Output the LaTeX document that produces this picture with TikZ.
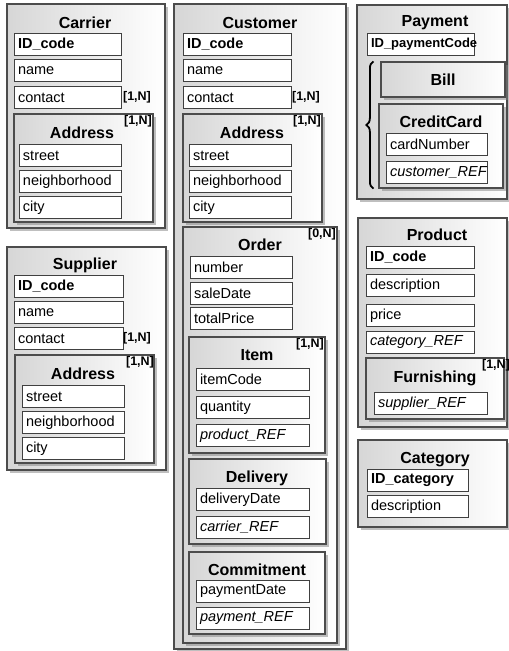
\documentclass[tikz,border=0pt]{standalone}
\usepackage{fontspec}
\setmainfont{Liberation Sans}
\usetikzlibrary{fit,shadows,decorations.pathreplacing}

\begin{document}
\begin{tikzpicture}[
      x=1pt, y=-1pt,
      entity/.style={draw=black!70, line width=1.2pt, left color=black!16, right color=white,
        inner sep=0pt, drop shadow={shadow xshift=2.5pt, shadow yshift=-2.5pt, fill=black!50, opacity=0.5}},
      field/.style={draw=black!75, line width=1pt, fill=white, anchor=north west,
        minimum height=22pt, inner xsep=3.5pt, inner ysep=0pt, text width=#1, align=left,
        font=\fontsize{14.5}{16}\selectfont},
      field/.default=100pt,
      pkey/.style={field=#1, font=\fontsize{14.5}{16}\selectfont\bfseries},
      pkey/.default=100pt,
      fref/.style={field=#1, font=\fontsize{14.5}{16}\selectfont\itshape},
      fref/.default=100pt,
      hdr/.style={font=\fontsize{16}{18}\selectfont\bfseries, inner sep=0pt},
      card/.style={font=\fontsize{12.5}{14}\selectfont\bfseries, inner sep=0pt},
      brace/.style={decorate, decoration={brace, amplitude=7pt}, line width=1.8pt}
    ]
    \useasboundingbox (0,0) rectangle (509,651);

    % Carrier
    \node[entity, fit={(7,4) (165,228)}] (Car) {};
    \node[hdr] (CarT) at (85,23) {Carrier};
    \node[pkey] (CarId) at (14,33) {ID\_code};
    \node[field] (CarName) at (14,59) {name};
    \node[field] (CarCont) at (14,86) {contact};
    \node[card] (CarCard) at (137,97) {[1,N]};
    \node[entity, fit={(14,114) (153,222)}] (CarAddr) {};
    \node[hdr] (CarAddrT) at (82,133) {Address};
    \node[card] (CarAddrCard) at (138,121) {[1,N]};
    \node[field=95pt] (CarStreet) at (19,144) {street};
    \node[field=95pt] (CarNbh) at (19,170) {neighborhood};
    \node[field=95pt] (CarCity) at (19,196) {city};

    % Supplier
    \node[entity, fit={(7,247) (166,470)}] (Sup) {};
    \node[hdr] (SupT) at (85,265) {Supplier};
    \node[pkey=102pt] (SupId) at (14,275) {ID\_code};
    \node[field=102pt] (SupName) at (14,301) {name};
    \node[field=102pt] (SupCont) at (14,327) {contact};
    \node[card] (SupCard) at (137,338) {[1,N]};
    \node[entity, fit={(15,355) (154,463)}] (SupAddr) {};
    \node[hdr] (SupAddrT) at (83,374) {Address};
    \node[card] (SupAddrCard) at (140,362) {[1,N]};
    \node[field=95pt] (SupStreet) at (22,385) {street};
    \node[field=95pt] (SupNbh) at (22,411) {neighborhood};
    \node[field=95pt] (SupCity) at (22,437) {city};

    % Customer
    \node[entity, fit={(174,4) (346,649)}] (Cus) {};
    \node[hdr] (CusT) at (260,23) {Customer};
    \node[pkey=101pt] (CusId) at (183,33) {ID\_code};
    \node[field=101pt] (CusName) at (183,59) {name};
    \node[field=101pt] (CusCont) at (183,86) {contact};
    \node[card] (CusCard) at (306,97) {[1,N]};
    \node[entity, fit={(183,114) (322,222)}] (CusAddr) {};
    \node[hdr] (CusAddrT) at (252,133) {Address};
    \node[card] (CusAddrCard) at (307,121) {[1,N]};
    \node[field=95pt] (CusStreet) at (189,144) {street};
    \node[field=95pt] (CusNbh) at (189,170) {neighborhood};
    \node[field=95pt] (CusCity) at (189,196) {city};

    % Order
    \node[entity, fit={(183,227) (337,643)}] (Ord) {};
    \node[hdr] (OrdT) at (260,245) {Order};
    \node[card] (OrdCard) at (322,234) {[0,N]};
    \node[field=95pt] (OrdNum) at (190,256) {number};
    \node[field=95pt] (OrdDate) at (190,282) {saleDate};
    \node[field=95pt] (OrdPrice) at (190,307) {totalPrice};

    % Item
    \node[entity, fit={(189,337) (325,453)}] (Itm) {};
    \node[hdr] (ItmT) at (257,355) {Item};
    \node[card] (ItmCard) at (310,344) {[1,N]};
    \node[field=106pt] (ItmCode) at (196,368) {itemCode};
    \node[field=106pt] (ItmQty) at (196,396) {quantity};
    \node[fref=106pt] (ItmProd) at (196,424) {product\_REF};

    % Delivery
    \node[entity, fit={(189,459) (326,544)}] (Del) {};
    \node[hdr] (DelT) at (257,478) {Delivery};
    \node[field=106pt] (DelDate) at (196,488) {deliveryDate};
    \node[fref=106pt] (DelCar) at (196,516) {carrier\_REF};

    % Commitment
    \node[entity, fit={(189,552) (325,634)}] (Com) {};
    \node[hdr] (ComT) at (257,570) {Commitment};
    \node[field=106pt] (ComDate) at (196,580) {paymentDate};
    \node[fref=106pt] (ComPay) at (196,607) {payment\_REF};

    % Payment
    \node[entity, fit={(357,5) (507,199)}] (Pay) {};
    \node[hdr] (PayT) at (435,23) {Payment};
    \node[pkey=100pt, font=\fontsize{13}{15}\selectfont\bfseries] (PayId) at (367,33) {ID\_paymentCode};
    \node[entity, fit={(381,62) (505,97)}] (Bill) {};
    \node[hdr] (BillT) at (443,80) {Bill};
    \node[entity, fit={(379,104) (503,188)}] (Card) {};
    \node[hdr] (CardT) at (441,122) {CreditCard};
    \node[field=94pt] (CardNum) at (386,133) {cardNumber};
    \node[fref=94pt] (CardCus) at (386,161) {customer\_REF};
    \draw[brace] ([xshift=-5pt]Card.south west) -- ([xshift=-7pt]Bill.north west);

    % Product
    \node[entity, fit={(358,218) (507,427)}] (Prd) {};
    \node[hdr] (PrdT) at (437,235) {Product};
    \node[pkey=101pt] (PrdId) at (366,246) {ID\_code};
    \node[field=101pt] (PrdDesc) at (366,274) {description};
    \node[field=101pt] (PrdPrice) at (366,304) {price};
    \node[fref=101pt] (PrdCat) at (366,331) {category\_REF};
    \node[entity, fit={(366,358) (504,419)}] (Fur) {};
    \node[hdr] (FurT) at (435,378) {Furnishing};
    \node[card] (FurCard) at (496,365) {[1,N]};
    \node[fref=106pt] (FurSup) at (374,392) {supplier\_REF};

    % Category
    \node[entity, fit={(358,440) (507,527)}] (Cat) {};
    \node[hdr] (CatT) at (435,460) {Category};
    \node[pkey=94pt] (CatId) at (367,469) {ID\_category};
    \node[field=94pt] (CatDesc) at (367,495) {description};

  \end{tikzpicture}
\end{document}
